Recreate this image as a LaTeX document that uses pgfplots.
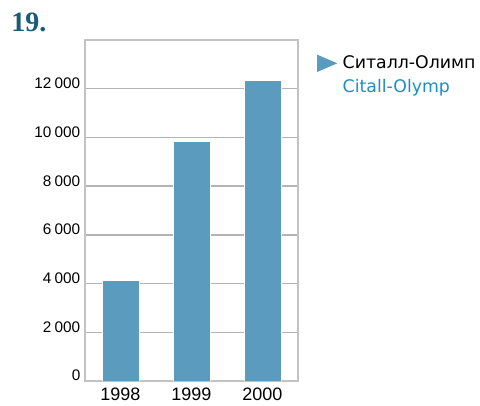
\documentclass[border=0pt]{standalone}
\usepackage{pgfplots}
\pgfplotsset{compat=1.18}
\usepackage{fontspec}
\setmainfont{Liberation Sans}
\newfontfamily\titlefont{Liberation Serif}
\newfontfamily\legfont{DejaVu Sans}
\definecolor{barc}{RGB}{91,155,190}
\definecolor{gridc}{RGB}{180,180,180}
\definecolor{axisc}{RGB}{195,195,195}
\definecolor{titlec}{RGB}{22,92,118}
\definecolor{legblue}{RGB}{30,140,200}
\begin{document}
\begin{tikzpicture}
\useasboundingbox (-63.75pt,-18.75pt) rectangle (296.25pt,285.75pt);
\begin{axis}[
  at={(0pt,0pt)}, anchor=south west,
  scale only axis, width=159.75pt, height=255.75pt,
  xmin=-0.5, xmax=2.5, ymin=0, ymax=14000,
  xtick={0,1,2}, xticklabels={1998,1999,2000},
  ytick={0,2000,4000,6000,8000,10000,12000},
  scaled y ticks=false,
  ymajorgrids,
  major grid style={draw=gridc, line width=1.1pt},
  axis line style={draw=axisc, line width=0.8pt},
  tick style={draw=none},
  /pgf/number format/.cd, 1000 sep={\hspace{0.22em}}, assume math mode=true,
  /pgfplots/.cd,
  yticklabel style={font=\fontsize{11.5}{12}\selectfont, anchor=east, yshift=4pt, xshift=0pt},
  xticklabel style={font=\fontsize{13.5}{14}\selectfont, yshift=-2pt},
  legend style={at={(1.089,0.962)}, anchor=north west, draw=none, fill=none,
    inner sep=0pt, row sep=2.8pt, font=\legfont\fontsize{13.0}{15}\selectfont,
    /tikz/every odd column/.append style={column sep=2.5pt}},
  legend cell align=left,
]
\addplot[ybar, bar width=0.52, fill=barc, draw=white, line width=0.6pt,
  legend image code/.code={\fill[barc] (0pt,-6pt) -- (14pt,0pt) -- (0pt,6pt) -- cycle;}]
  coordinates {(0,4130) (1,9850) (2,12330)};
\addlegendentry{Ситалл-Олимп}
\addlegendimage{empty legend}
\addlegendentry{\textcolor{legblue}{Citall-Olymp}}
\end{axis}
\node[anchor=base west, inner sep=0pt, text=titlec, font=\titlefont\bfseries\fontsize{21}{22}\selectfont] at (-55.5pt,261.75pt) {19.};
\end{tikzpicture}
\end{document}
